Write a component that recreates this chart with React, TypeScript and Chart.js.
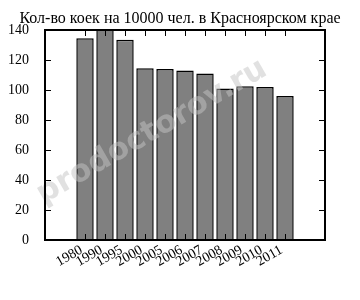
import React, { useEffect, useRef } from "react";
import { Chart, registerables } from "chart.js";

Chart.register(...registerables);

const title = "Кол-во коек на 10000 чел. в Красноярском крае";
const years = ["1980", "1990", "1995", "2000", "2005", "2006", "2007", "2008", "2009", "2010", "2011"];
const beds = [134.5, 142, 133.5, 114.5, 114, 113, 111, 101, 102.5, 102, 96];
const yTicks = [0, 20, 40, 60, 80, 100, 120, 140];
const watermark = "prodoctorov.ru";

const SERIF = "'Liberation Serif', 'DejaVu Serif', serif";

const framePlugin = {
  id: "frame",
  afterDatasetsDraw(chart: any) {
    const { ctx } = chart;
    ctx.save();
    ctx.translate(152, 132);
    ctx.rotate(-30 * Math.PI / 180);
    ctx.font = "bold 31px 'DejaVu Sans', sans-serif";
    ctx.fillStyle = "rgba(195,195,195,0.5)";
    ctx.textAlign = "center";
    ctx.textBaseline = "middle";
    ctx.fillText(watermark, 0, 0);
    ctx.restore();
  },
  afterDraw(chart: any) {
    const { ctx, chartArea } = chart;
    const left = Math.round(chartArea.left);
    const right = Math.round(chartArea.right);
    const top = Math.round(chartArea.top);
    const bottom = Math.round(chartArea.bottom);
    const xs = chart.scales.x;
    const ys = chart.scales.y;
    ctx.save();
    ctx.fillStyle = "#000";
    // frame, 2px
    ctx.fillRect(left - 1, top - 1, right - left + 2, 2);
    ctx.fillRect(left - 1, bottom - 1, right - left + 2, 2);
    ctx.fillRect(left - 1, top - 1, 2, bottom - top + 2);
    ctx.fillRect(right - 1, top - 1, 2, bottom - top + 2);
    // inward ticks
    const L = 6;
    years.forEach((_, i) => {
      const x = Math.round(xs.getPixelForValue(i));
      ctx.fillRect(x, bottom - L, 1, L);
      ctx.fillRect(x, top, 1, L);
    });
    yTicks.forEach((v) => {
      const y = Math.round(ys.getPixelForValue(v));
      ctx.fillRect(left, y, L, 1);
      ctx.fillRect(right - L, y, L, 1);
    });
    // x tick labels
    ctx.font = "14px " + SERIF;
    ctx.textAlign = "right";
    ctx.textBaseline = "top";
    years.forEach((yr, i) => {
      const x = xs.getPixelForValue(i);
      ctx.save();
      ctx.translate(x - 7, bottom + 3);
      ctx.rotate(-30 * Math.PI / 180);
      ctx.fillText(yr, 0, 0);
      ctx.restore();
    });
    // title
    ctx.font = "16px " + SERIF;
    ctx.textAlign = "center";
    ctx.textBaseline = "alphabetic";
    ctx.fillText(title, 180, 23);
    ctx.restore();
  },
};

export default function App() {
  const ref = useRef<HTMLCanvasElement>(null);
  useEffect(() => {
    const canvas = ref.current;
    if (!canvas) return;
    const chart = new Chart(canvas, {
      type: "bar",
      data: {
        datasets: [
          {
            data: beds.map((v, i) => ({ x: i, y: v })),
            backgroundColor: "#808080",
            borderColor: "#000",
            borderWidth: 1.5,
            barPercentage: 0.87,
            categoryPercentage: 1,
          },
        ],
      },
      options: {
        animation: false,
        responsive: false,
        maintainAspectRatio: false,
        layout: { padding: { top: 30, right: 35, left: 0, bottom: 0 } },
        plugins: {
          legend: { display: false },
          tooltip: { enabled: false },
          title: { display: false },
        },
        scales: {
          x: {
            type: "linear",
            offset: false,
            min: -2,
            max: 12,
            grid: { display: false, offset: false },
            border: { display: false },
            afterBuildTicks: (s: any) => {
              s.ticks = years.map((_, i) => ({ value: i }));
            },
            afterFit: (s: any) => {
              s.height = 60;
            },
            ticks: { display: false },
          },
          y: {
            min: 0,
            max: 140,
            grid: { display: false },
            border: { display: false },
            afterBuildTicks: (s: any) => {
              s.ticks = yTicks.map((v) => ({ value: v }));
            },
            afterFit: (s: any) => {
              s.width = 45;
            },
            ticks: {
              padding: 8,
              color: "#000",
              font: { family: SERIF, size: 14 },
            },
          },
        },
      } as any,
      plugins: [framePlugin],
    });
    return () => chart.destroy();
  }, []);
  return (
    <div style={{ position: "fixed", left: 0, top: 0, width: 360, height: 300, background: "#fff" }}>
      <canvas ref={ref} width={360} height={300} style={{ display: "block" }} />
    </div>
  );
}
